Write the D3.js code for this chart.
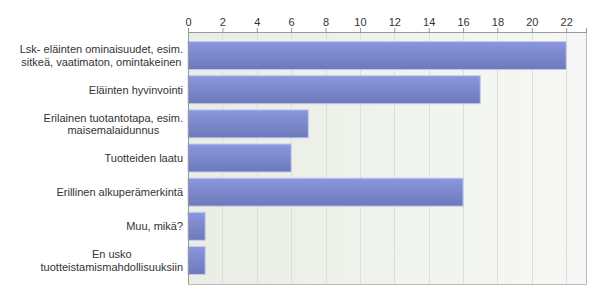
<!DOCTYPE html>
<html>
<head>
<meta charset="utf-8">
<script src="https://cdn.jsdelivr.net/npm/d3@7"></script>
<style>
  body { margin: 0; background: #fff; }
  text { font-family: "Liberation Sans", Arial, sans-serif; font-size: 11px; fill: #333; }
</style>
</head>
<body>
<div id="chart"></div>
<script>
// categories (one array of lines per label) and counts
var categories = [
    ["Lsk- eläinten ominaisuudet, esim.", "sitkeä, vaatimaton, omintakeinen"],
    ["Eläinten hyvinvointi"],
    ["Erilainen tuotantotapa, esim.", "maisemalaidunnus"],
    ["Tuotteiden laatu"],
    ["Erillinen alkuperämerkintä"],
    ["Muu, mikä?"],
    ["En usko", "tuotteistamismahdollisuuksiin"]
];
var counts = [22, 17, 7, 6, 16, 1, 1];
var tickValues = [0, 2, 4, 6, 8, 10, 12, 14, 16, 18, 20, 22];

var margin = {top: 32, right: 14, bottom: 15, left: 188};
var width = 600 - margin.left - margin.right;
var height = 299 - margin.top - margin.bottom;

const svg = d3.select("#chart")
    .append("svg")
        .attr("width", 600)
        .attr("height", 299)
    .append("g")
    .attr("transform", `translate(${margin.left},${margin.top})`);

var defs = svg.append("defs");
var bg = defs.append("linearGradient").attr("id", "bg").attr("x1", 0).attr("x2", 1).attr("y1", 0).attr("y2", 0);
bg.append("stop").attr("offset", "0%").attr("stop-color", "#e9ede4");
bg.append("stop").attr("offset", "100%").attr("stop-color", "#f7f8f5");
var bar = defs.append("linearGradient").attr("id", "bar").attr("x1", 0).attr("x2", 0).attr("y1", 0).attr("y2", 1);
bar.append("stop").attr("offset", "0%").attr("stop-color", "#8b97de");
bar.append("stop").attr("offset", "100%").attr("stop-color", "#6c79b9");

var x = d3.scaleLinear()
    .domain([0, 23.15])
    .range([0, width]);

var y = d3.scaleBand()
    .domain(d3.range(categories.length))
    .range([0, height])
    .paddingInner(0.18)
    .paddingOuter(0.28);

// plot background
svg.append("rect")
    .attr("width", width)
    .attr("height", height)
    .attr("fill", "url(#bg)");

// vertical grid
svg.selectAll(".grid")
    .data(tickValues.slice(1))
    .enter()
    .append("line")
        .attr("x1", d => Math.round(x(d)) + 0.5)
        .attr("x2", d => Math.round(x(d)) + 0.5)
        .attr("y1", 0)
        .attr("y2", height)
        .attr("stroke", "#dcdfd8");

// border right / bottom
svg.append("path")
    .attr("d", `M${width + 0.5},0V${height + 0.5}H0`)
    .attr("fill", "none")
    .attr("stroke", "#bbbbbb");

// Bars
svg.selectAll("mybar")
    .data(counts)
    .enter()
    .append("rect")
        .attr("x", 0)
        .attr("y", (d, i) => y(i))
        .attr("width", d => x(d))
        .attr("height", y.bandwidth())
        .attr("fill", "url(#bar)")
        .attr("stroke", "#c5cbef")
        .attr("stroke-width", 1);

// top axis
var xAxis = svg.append("g")
    .call(d3.axisTop(x).tickValues(tickValues).tickSize(4).tickPadding(2));
xAxis.select(".domain").attr("stroke", "#999");
xAxis.selectAll(".tick line").attr("stroke", "#999");
xAxis.selectAll("text").style("font-size", "11px").attr("fill", "#444");

// left axis line
svg.append("line")
    .attr("x1", 0.5).attr("x2", 0.5)
    .attr("y1", 0).attr("y2", height)
    .attr("stroke", "#999");

// category labels: centered block, right-aligned to axis
var lineH = 12.5;
categories.forEach(function(lines, i) {
    var cy = y(i) + y.bandwidth() / 2;
    var t = svg.append("text").attr("text-anchor", "middle");
    lines.forEach(function(l, k) {
        t.append("tspan")
            .attr("y", cy + 4 + (k - (lines.length - 1) / 2) * lineH)
            .text(l);
    });
    var w = d3.max(t.selectAll("tspan").nodes(), n => n.getComputedTextLength());
    t.selectAll("tspan").attr("x", -5 - w / 2);
});
</script>
</body>
</html>
